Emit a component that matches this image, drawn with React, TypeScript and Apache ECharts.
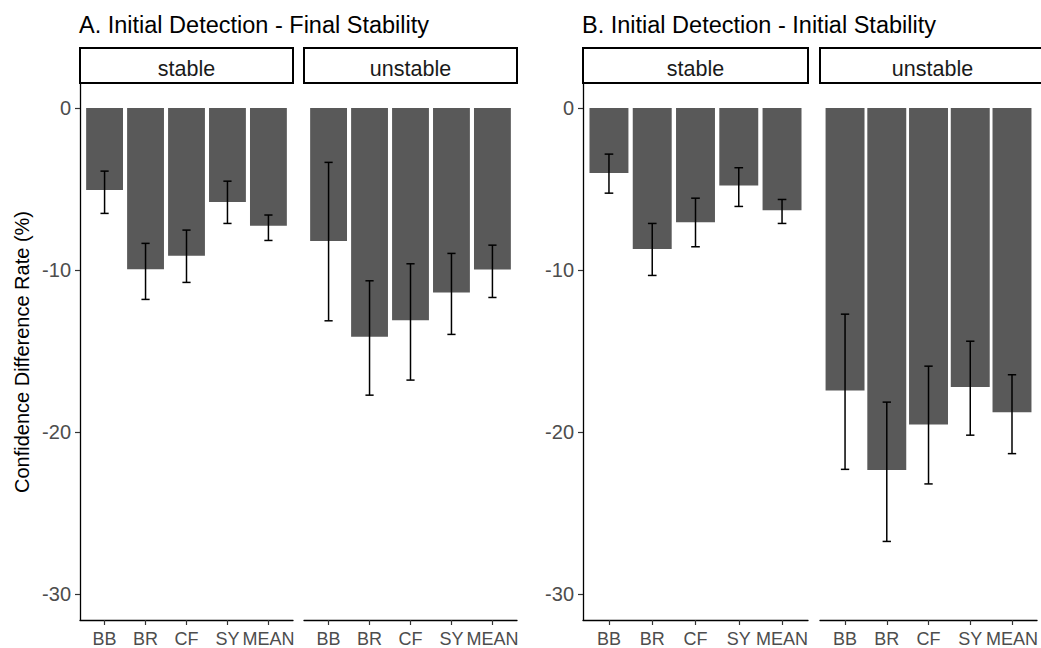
import React, { useEffect, useRef } from "react";
import * as echarts from "echarts";

const categories = ["BB", "BR", "CF", "SY", "MEAN"];
const yTicks = [-30, -20, -10, 0];

const aStableMean = [-5.06, -9.94, -9.11, -5.8, -7.26];
const aStableLow = [-6.5, -11.81, -10.76, -7.12, -8.17];
const aStableHigh = [-3.89, -8.35, -7.53, -4.51, -6.6];

const aUnstableMean = [-8.21, -14.12, -13.09, -11.39, -9.96];
const aUnstableLow = [-13.13, -17.72, -16.79, -13.97, -11.69];
const aUnstableHigh = [-3.35, -10.66, -9.61, -8.97, -8.46];

const bStableMean = [-4.01, -8.7, -7.04, -4.77, -6.3];
const bStableLow = [-5.25, -10.33, -8.56, -6.07, -7.12];
const bStableHigh = [-2.84, -7.12, -5.56, -3.68, -5.64];

const bUnstableMean = [-17.44, -22.34, -19.53, -17.22, -18.78];
const bUnstableLow = [-22.3, -26.75, -23.2, -20.19, -21.33];
const bUnstableHigh = [-12.72, -18.15, -15.93, -14.39, -16.46];

const panelTitles = ["A. Initial Detection - Final Stability", "B. Initial Detection - Initial Stability"];
const facetNames = ["stable", "unstable", "stable", "unstable"];
const yAxisName = "Confidence Difference Rate (%)";

export default function App() {
  const ref = useRef<HTMLDivElement>(null);
  useEffect(() => {
    if (!ref.current) return;
    const chart = echarts.init(ref.current, null, { renderer: "svg" });
    const font = "'Liberation Sans', Arial, sans-serif";
    const top = 83;
    const height = 537;
    const grids = [
      { left: 80, width: 213 },
      { left: 304, width: 213 },
      { left: 583, width: 225 },
      { left: 820, width: 225 },
    ];
    const panels = [
      [aStableMean, aStableLow, aStableHigh],
      [aUnstableMean, aUnstableLow, aUnstableHigh],
      [bStableMean, bStableLow, bStableHigh],
      [bUnstableMean, bUnstableLow, bUnstableHigh],
    ];
    const yMin = -31.6;
    const yMax = 1.55;
    const xMin = 0.4;
    const xMax = 5.6;
    const tickIdx = categories.map((_, i) => i + 1);

    const series: any[] = [];
    panels.forEach((p, i) => {
      const bw = (0.9 * grids[i].width) / (xMax - xMin);
      series.push({
        type: "bar",
        xAxisIndex: i,
        yAxisIndex: i,
        barWidth: bw,
        itemStyle: { color: "#595959" },
        data: categories.map((_, j) => [j + 1, p[0][j]]),
        z: 2,
      });
      series.push({
        type: "custom",
        xAxisIndex: i,
        yAxisIndex: i,
        z: 5,
        encode: { x: 0, y: [1, 2] },
        data: categories.map((_, j) => [j + 1, p[1][j], p[2][j]]),
        renderItem: (params: any, api: any) => {
          const x = api.value(0);
          const lo = api.value(1);
          const hi = api.value(2);
          const p1 = api.coord([x, hi]);
          const p2 = api.coord([x, lo]);
          const hw = api.size([0.2, 0])[0] / 2;
          const st = { stroke: "#000", lineWidth: 1.5 };
          return {
            type: "group",
            children: [
              { type: "line", shape: { x1: p1[0], y1: p1[1], x2: p2[0], y2: p2[1] }, style: st },
              { type: "line", shape: { x1: p1[0] - hw, y1: p1[1], x2: p1[0] + hw, y2: p1[1] }, style: st },
              { type: "line", shape: { x1: p2[0] - hw, y1: p2[1], x2: p2[0] + hw, y2: p2[1] }, style: st },
            ],
          };
        },
      });
    });

    const graphics: any[] = [];
    grids.forEach((g, i) => {
      graphics.push({
        type: "rect",
        shape: { x: g.left, y: 48, width: g.width, height: 35 },
        style: { fill: "#fff", stroke: "#000", lineWidth: 2 },
        z: 10,
      });
      graphics.push({
        type: "text",
        x: g.left + g.width / 2,
        y: 68.5,
        style: {
          text: facetNames[i],
          font: `21.5px ${font}`,
          fill: "#1a1a1a",
          textAlign: "center",
          textVerticalAlign: "middle",
        },
        z: 11,
      });
    });
    graphics.push({
      type: "text",
      x: 79,
      y: 24.5,
      style: { text: panelTitles[0], font: `23.5px ${font}`, fill: "#000", textAlign: "left", textVerticalAlign: "middle" },
    });
    graphics.push({
      type: "text",
      x: 582,
      y: 24.5,
      style: { text: panelTitles[1], font: `23.5px ${font}`, fill: "#000", textAlign: "left", textVerticalAlign: "middle" },
    });
    graphics.push({
      type: "text",
      x: 22,
      y: 352,
      rotation: Math.PI / 2,
      style: { text: yAxisName, font: `20px ${font}`, fill: "#000", textAlign: "center", textVerticalAlign: "middle" },
    });

    chart.setOption({
      animation: false,
      grid: grids.map((g) => ({ left: g.left, width: g.width, top, height, containLabel: false })),
      xAxis: grids.map((_, i) => ({
        type: "value",
        gridIndex: i,
        min: xMin,
        max: xMax,
        splitLine: { show: false },
        axisLine: { show: true, onZero: false, lineStyle: { color: "#000", width: 1.3 } },
        axisTick: { show: true, customValues: tickIdx, length: 5, lineStyle: { color: "#333", width: 1.2 } },
        axisLabel: {
          customValues: tickIdx,
          formatter: (v: number) => categories[Math.round(v) - 1] ?? "",
          color: "#4d4d4d",
          fontSize: 18,
          fontFamily: font,
          margin: 10,
        },
      })),
      yAxis: grids.map((_, i) => {
        const show = i === 0 || i === 2;
        return {
          type: "value",
          gridIndex: i,
          min: yMin,
          max: yMax,
          splitLine: { show: false },
          axisLine: { show, lineStyle: { color: "#000", width: 1.3 } },
          axisTick: { show, customValues: yTicks, length: 5, lineStyle: { color: "#333", width: 1.2 } },
          axisLabel: {
            show,
            customValues: yTicks,
            color: "#4d4d4d",
            fontSize: 20,
            fontFamily: font,
            margin: 9,
          },
        };
      }),
      series,
      graphic: graphics,
    });
    return () => chart.dispose();
  }, []);
  return (
    <div
      ref={ref}
      style={{ position: "fixed", left: 0, top: 0, width: 1041, height: 648, background: "#fff" }}
    />
  );
}
